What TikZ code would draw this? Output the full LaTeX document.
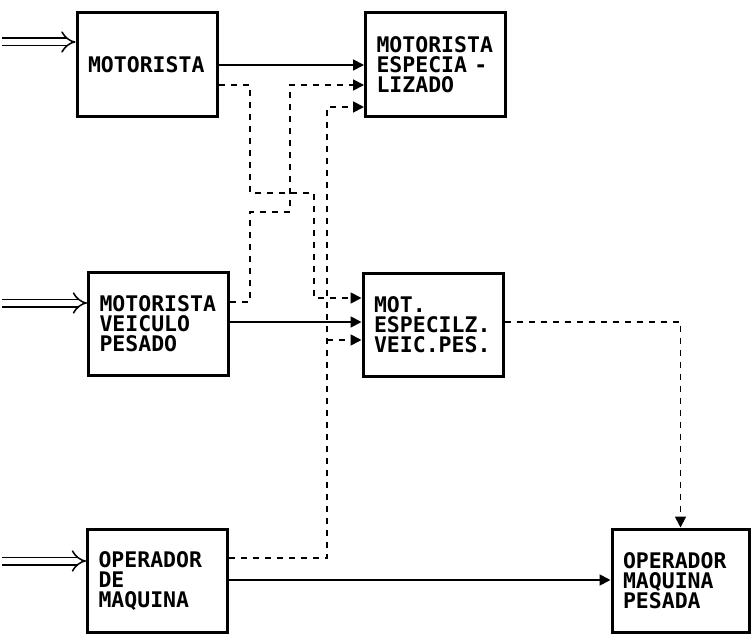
\documentclass[tikz,border=0pt]{standalone}
\usepackage{fontspec}
\setmonofont{DejaVu Sans Mono}
\usetikzlibrary{arrows.meta,positioning}
\tikzset{
  cargo/.style={draw,line width=3pt,minimum height=103pt,text width=118pt,
    align=left,inner sep=11pt,font=\ttfamily\bfseries\fontsize{21.5}{20}\selectfont},
  flow/.style={line width=1.8pt,-{Triangle[length=11pt,width=11pt]}},
  link/.style={flow,dash pattern=on 6pt off 6pt},
  inflow/.style={double,double distance=6pt,line width=1.5pt,-{Implies}}
}

\begin{document}
\begin{tikzpicture}[x=1pt,y=-1pt]
  \useasboundingbox (0,0) rectangle (751,634);
  % cargos
  \node[cargo] (mot)  at (147,64.5)  {MOTORISTA};
  \node[cargo] (mesp) at (435.5,64.5) {MOTORISTA\\ESPECIA -\\LIZADO};
  \node[cargo] (mvp)  at (158.5,324) {MOTORISTA\\VEICULO\\PESADO};
  \node[cargo] (mevp) at (433,324.5) {MOT.\\ESPECILZ.\\VEIC.PES.};
  \node[cargo] (odm)  at (157.5,581) {OPERADOR\\DE\\MAQUINA};
  \node[cargo,text width=115pt] (omp) at (680.5,580.5) {OPERADOR\\MAQUINA\\PESADA};
  % entradas
  \coordinate (inMot) at (2,42);
  \coordinate (inMvp) at (2,303);
  \coordinate (inOdm) at (2,561);
  \draw[inflow] (inMot) -- (inMot -| mot.west);
  \draw[inflow] (inMvp) -- (inMvp -| mvp.west);
  \draw[inflow] (inOdm) -- (inOdm -| odm.west);
  % promocoes
  \draw[flow] (mot.east |- 0,65) -- (mesp.west |- 0,65);
  \draw[flow] (mvp.east |- 0,322) -- (mevp.west |- 0,322);
  \draw[flow] (odm.east |- 0,580) -- (omp.west |- 0,580);
  % alternativas
  \draw[link] (mot.east |- 0,85) -| (250,193) -| (314,298) -- (mevp.west |- 0,298);
  \draw[link] (mvp.east |- 0,302) -| (250,212) -| (290,85) -- (mesp.west |- 0,85);
  \draw[link] (odm.east |- 0,558) -| (327,107) -- (mesp.west |- 0,107);
  \coordinate (tap) at (327,340);
  \draw[link] (tap) -- (mevp.west |- tap);
  \draw[link] (mevp.east |- 0,322) -| (omp.north);
\end{tikzpicture}
\end{document}
